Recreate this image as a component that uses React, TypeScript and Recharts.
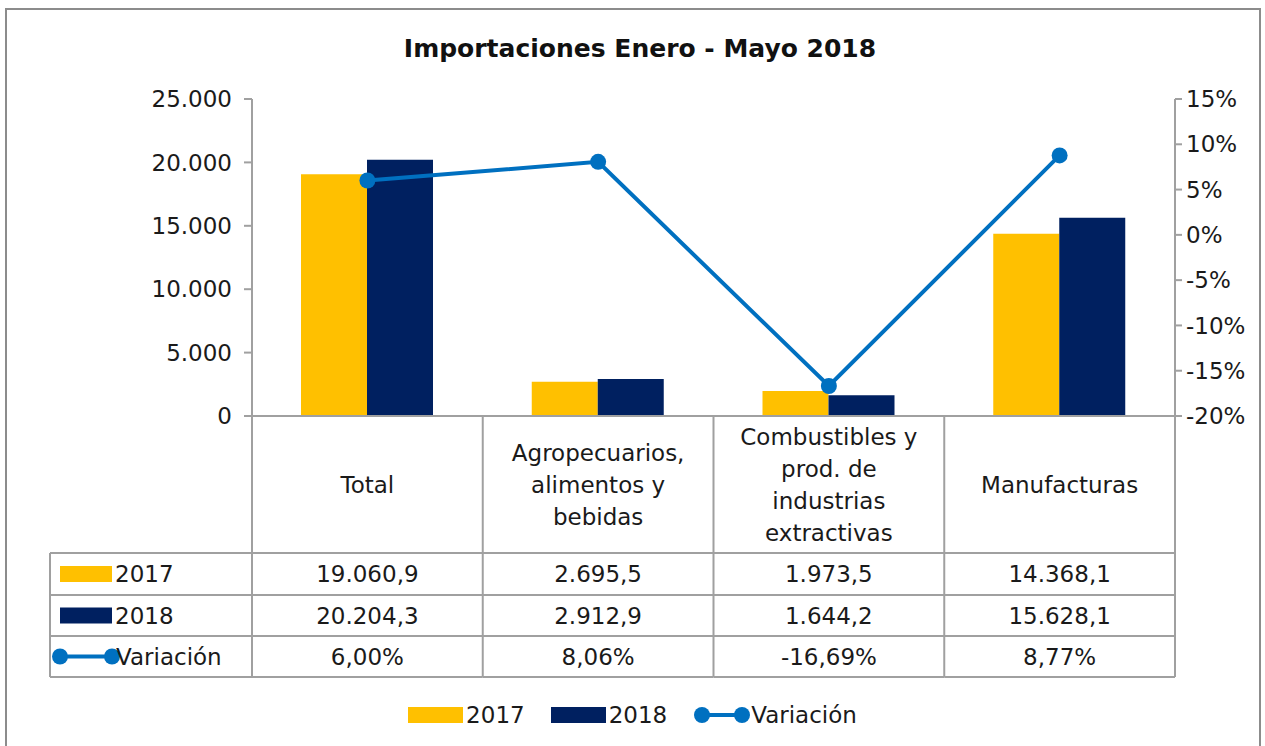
import React from "react";
import { ComposedChart, Bar, Line, XAxis, YAxis, Legend } from "recharts";

const categories = [
  "Total",
  "Agropecuarios,\nalimentos y\nbebidas",
  "Combustibles y\nprod. de\nindustrias\nextractivas",
  "Manufacturas",
];
const imports2017 = [19060.9, 2695.5, 1973.5, 14368.1];
const imports2018 = [20204.3, 2912.9, 1644.2, 15628.1];
const variation = [6.0, 8.06, -16.69, 8.77];
const leftTicks = [0, 5000, 10000, 15000, 20000, 25000];
const rightTicks = [-20, -15, -10, -5, 0, 5, 10, 15];

const data = categories.map((name, i) => ({
  name,
  y2017: imports2017[i],
  y2018: imports2018[i],
  variacion: variation[i],
}));

const W = 1265;
const H = 746;
const PLOT_LEFT = 252;
const PLOT_RIGHT = 1175;
const PLOT_TOP = 99;
const PLOT_BOTTOM = 416;
const TABLE_H = 265;
const BAND = (PLOT_RIGHT - PLOT_LEFT) / categories.length;
const ROWS = [553, 595, 636, 677];
const TABLE_LEFT = 50;

const YELLOW = "#FFC000";
const NAVY = "#002060";
const BLUE = "#0070C0";
const GRID = "#A0A0A0";
const FONT = "'DejaVu Sans', sans-serif";
const FS = 23;

function fmtNum(v: number, dec: number) {
  const [i, d] = v.toFixed(dec).split(".");
  const grouped = i.replace(/\B(?=(\d{3})+(?!\d))/g, ".");
  return d ? grouped + "," + d : grouped;
}
const fmtPct = (v: number) => v.toFixed(2).replace(".", ",") + "%";

function TableTick(props: any) {
  const { payload } = props;
  const i: number = payload.index;
  const left = PLOT_LEFT + i * BAND;
  const right = left + BAND;
  const cx = left + BAND / 2;
  const lines = String(categories[i]).split("\n");
  const lh = 32;
  const headerMid = (PLOT_BOTTOM + ROWS[0]) / 2;
  const firstY = headerMid - ((lines.length - 1) * lh) / 2;
  const rowMid = (r: number) => (ROWS[r] + ROWS[r + 1]) / 2;
  const values = [fmtNum(imports2017[i], 1), fmtNum(imports2018[i], 1), fmtPct(variation[i])];
  const txt = { fontFamily: FONT, fontSize: FS, fill: "#1a1a1a" };
  return (
    <g>
      {i === 0 && (
        <g>
          <line x1={left} x2={left} y1={PLOT_BOTTOM} y2={ROWS[3]} stroke={GRID} strokeWidth={2} />
          <line x1={TABLE_LEFT} x2={TABLE_LEFT} y1={ROWS[0]} y2={ROWS[3]} stroke={GRID} strokeWidth={2} />
          {ROWS.map((y) => (
            <line key={y} x1={TABLE_LEFT} x2={left} y1={y} y2={y} stroke={GRID} strokeWidth={2} />
          ))}
          <rect x={60} y={rowMid(0) - 8} width={52} height={16} fill={YELLOW} />
          <text x={115} y={rowMid(0)} dominantBaseline="central" {...txt}>2017</text>
          <rect x={60} y={rowMid(1) - 8} width={52} height={16} fill={NAVY} />
          <text x={115} y={rowMid(1)} dominantBaseline="central" {...txt}>2018</text>
          <line x1={60} x2={112} y1={rowMid(2)} y2={rowMid(2)} stroke={BLUE} strokeWidth={4} />
          <circle cx={60} cy={rowMid(2)} r={8} fill={BLUE} />
          <circle cx={112} cy={rowMid(2)} r={8} fill={BLUE} />
          <text x={116} y={rowMid(2)} dominantBaseline="central" {...txt}>Variación</text>
        </g>
      )}
      <line x1={right} x2={right} y1={PLOT_BOTTOM} y2={ROWS[3]} stroke={GRID} strokeWidth={2} />
      {ROWS.map((y) => (
        <line key={y} x1={left} x2={right} y1={y} y2={y} stroke={GRID} strokeWidth={2} />
      ))}
      {lines.map((l, k) => (
        <text key={k} x={cx} y={firstY + k * lh} textAnchor="middle" dominantBaseline="central" {...txt}>
          {l}
        </text>
      ))}
      {values.map((v, r) => (
        <text key={r} x={cx} y={rowMid(r)} textAnchor="middle" dominantBaseline="central" {...txt}>
          {v}
        </text>
      ))}
    </g>
  );
}

function BottomLegend() {
  const item = { display: "flex", alignItems: "center", marginRight: 26 } as const;
  const label = { fontFamily: FONT, fontSize: FS, color: "#1a1a1a", marginLeft: 3 };
  return (
    <div style={{ display: "flex", justifyContent: "center", paddingLeft: 26 }}>
      <div style={item}>
        <div style={{ width: 55, height: 16, background: YELLOW }} />
        <span style={label}>2017</span>
      </div>
      <div style={item}>
        <div style={{ width: 55, height: 16, background: NAVY }} />
        <span style={label}>2018</span>
      </div>
      <div style={item}>
        <svg width={58} height={20}>
          <line x1={8} x2={50} y1={10} y2={10} stroke={BLUE} strokeWidth={4} />
          <circle cx={9} cy={10} r={8} fill={BLUE} />
          <circle cx={49} cy={10} r={8} fill={BLUE} />
        </svg>
        <span style={{ ...label, marginLeft: 0 }}>Variación</span>
      </div>
    </div>
  );
}

export default function App() {
  const tickStyle = { fontFamily: FONT, fontSize: FS, fill: "#1a1a1a" };
  return (
    <div style={{ position: "fixed", left: 0, top: 0, width: W, height: H, overflow: "hidden", background: "#fff" }}>
      <div
        style={{
          position: "absolute",
          left: 5,
          top: 8,
          width: 1256,
          height: 760,
          border: "2px solid #8c8c8c",
          boxSizing: "border-box",
        }}
      />
      <div
        style={{
          position: "absolute",
          left: 0,
          top: 34,
          width: 1280,
          textAlign: "center",
          fontFamily: FONT,
          fontWeight: "bold",
          fontSize: 25,
          color: "#111",
        }}
      >
        Importaciones Enero - Mayo 2018
      </div>
      <ComposedChart
        width={W}
        height={H}
        data={data}
        margin={{ top: PLOT_TOP, right: 0, left: 0, bottom: H - PLOT_BOTTOM - TABLE_H }}
        barGap={0}
        barSize={66}
      >
        <XAxis
          dataKey="name"
          height={TABLE_H}
          interval={0}
          tickLine={false}
          axisLine={{ stroke: GRID, strokeWidth: 2 }}
          tick={<TableTick />}
        />
        <YAxis
          yAxisId="left"
          width={PLOT_LEFT}
          domain={[0, 25000]}
          ticks={leftTicks}
          tickFormatter={(v: number) => fmtNum(v, 0)}
          tick={tickStyle}
          tickSize={8}
          tickMargin={12}
          axisLine={{ stroke: GRID, strokeWidth: 2 }}
          tickLine={{ stroke: GRID, strokeWidth: 2 }}
        />
        <YAxis
          yAxisId="right"
          orientation="right"
          width={W - PLOT_RIGHT}
          domain={[-20, 15]}
          ticks={rightTicks}
          tickFormatter={(v: number) => `${v}%`}
          tick={tickStyle}
          tickSize={7}
          tickMargin={4}
          axisLine={{ stroke: GRID, strokeWidth: 2 }}
          tickLine={{ stroke: GRID, strokeWidth: 2 }}
        />
        <Bar yAxisId="left" dataKey="y2017" name="2017" fill={YELLOW} isAnimationActive={false} />
        <Bar yAxisId="left" dataKey="y2018" name="2018" fill={NAVY} isAnimationActive={false} />
        <Line
          yAxisId="right"
          dataKey="variacion"
          name="Variación"
          stroke={BLUE}
          strokeWidth={4}
          dot={{ r: 8, fill: BLUE, stroke: BLUE, strokeWidth: 0 }}
          isAnimationActive={false}
        />
        <Legend
          layout="horizontal"
          verticalAlign="middle"
          align="center"
          content={<BottomLegend />}
          wrapperStyle={{ top: 702, left: 0, width: W, bottom: "auto" }}
        />
      </ComposedChart>
    </div>
  );
}
